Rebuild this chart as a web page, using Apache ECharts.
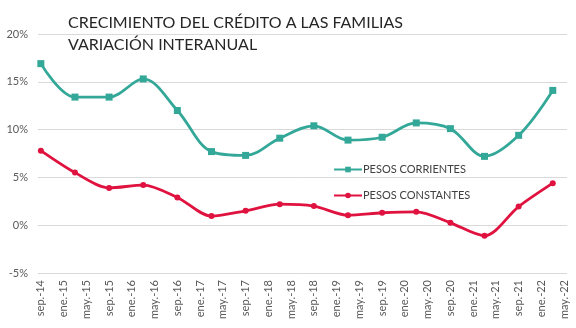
<!DOCTYPE html>
<html>
<head>
<meta charset="utf-8">
<script src="https://cdn.jsdelivr.net/npm/echarts@6/dist/echarts.min.js"></script>
<style>html,body{margin:0;padding:0;background:#fff}#c{width:576px;height:328px}</style>
</head>
<body>
<div id="c"></div>
<script>
const monthNames = ['ene','feb','mar','abr','may','jun','jul','ago','sep','oct','nov','dic'];
const axisStart = 'sep-14';
const axisEnd = 'may-22';
const tickLabels = ['sep.-14','ene.-15','may.-15','sep.-15','ene.-16','may.-16','sep.-16','ene.-17','may.-17','sep.-17','ene.-18','may.-18','sep.-18','ene.-19','may.-19','sep.-19','ene.-20','may.-20','sep.-20','ene.-21','may.-21','sep.-21','ene.-22','may.-22'];
const periods = ['sep-14','mar-15','sep-15','mar-16','sep-16','mar-17','sep-17','mar-18','sep-18','mar-19','sep-19','mar-20','sep-20','mar-21','sep-21','mar-22'];
const pesosCorrientes = [16.9,13.4,13.4,15.3,12.0,7.7,7.3,9.1,10.4,8.9,9.2,10.7,10.1,7.2,9.4,14.1];
const pesosConstantes = [7.8,5.5,3.9,4.2,2.9,0.95,1.5,2.2,2.0,1.05,1.3,1.4,0.25,-1.1,1.95,4.4];
const yTicks = [-5,0,5,10,15,20];

function monthIdx(s){const [m,y]=s.split('-');return (2000+ +y)*12+monthNames.indexOf(m);}
const i0 = monthIdx(axisStart), i1 = monthIdx(axisEnd);
const categories = [];
for(let i=i0;i<=i1;i++){categories.push(monthNames[i%12]+'-'+String(Math.floor(i/12)%100).padStart(2,'0'));}
function place(vals){const arr=categories.map(()=>null);periods.forEach((p,k)=>{arr[monthIdx(p)-i0]=vals[k];});return arr;}
const labelMap = {};
categories.forEach((c,i)=>{ if(i%4===0){labelMap[c]=tickLabels[i/4];} });

const chart = echarts.init(document.getElementById('c'));
const font = 'Lato';
chart.setOption({
  animation:false,
  title:{text:'CRECIMIENTO DEL CRÉDITO A LAS FAMILIAS\nVARIACIÓN INTERANUAL',left:63,top:7,
    textStyle:{fontFamily:font,fontSize:16,fontWeight:'normal',color:'#262626',lineHeight:22}},
  legend:{orient:'vertical',left:328,top:159,itemWidth:28,itemHeight:7,itemGap:15,
    textStyle:{fontFamily:font,fontSize:11,color:'#404040',padding:[0,0,0,-4]},
    data:['PESOS CORRIENTES','PESOS CONSTANTES']},
  grid:{left:38,right:9,top:34,bottom:55,containLabel:false},
  xAxis:{type:'category',data:categories,boundaryGap:true,
    axisLine:{lineStyle:{color:'#d9d9d9'}},axisTick:{show:false},
    axisLabel:{interval:3,rotate:90,fontFamily:font,fontSize:11,color:'#595959',margin:7,
      formatter:(v)=>labelMap[v]||''}},
  yAxis:{type:'value',min:yTicks[0],max:yTicks[yTicks.length-1],interval:5,
    axisLine:{show:false},axisTick:{show:false},
    splitLine:{lineStyle:{color:'#d9d9d9'}},
    axisLabel:{fontFamily:font,fontSize:11,color:'#595959',margin:10,formatter:v=>v+'%'}},
  series:[
    {name:'PESOS CORRIENTES',type:'line',data:place(pesosCorrientes),connectNulls:true,smooth:0.35,
     showAllSymbol:true,symbol:'rect',symbolSize:7,lineStyle:{width:2.8,color:'#34A898'},itemStyle:{color:'#34A898'}},
    {name:'PESOS CONSTANTES',type:'line',data:place(pesosConstantes),connectNulls:true,smooth:0.3,
     showAllSymbol:true,symbol:'circle',symbolSize:6,lineStyle:{width:2.8,color:'#E0123F'},itemStyle:{color:'#E0123F'}}
  ]
});
</script>
</body>
</html>
